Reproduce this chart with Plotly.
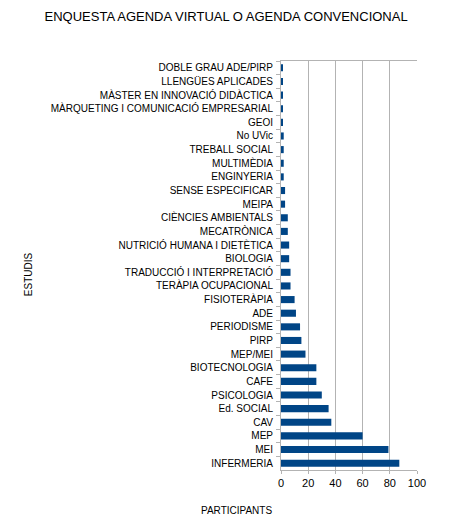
import plotly.graph_objects as go

# estudis (de dalt a baix) i nombre de participants
estudis = [
    "DOBLE GRAU ADE/PIRP", "LLENGÜES APLICADES", "MÀSTER EN INNOVACIÓ DIDÀCTICA",
    "MÀRQUETING I COMUNICACIÓ EMPRESARIAL", "GEOI", "No UVic", "TREBALL SOCIAL",
    "MULTIMÈDIA", "ENGINYERIA", "SENSE ESPECIFICAR", "MEIPA", "CIÈNCIES AMBIENTALS",
    "MECATRÒNICA", "NUTRICIÓ HUMANA I DIETÈTICA", "BIOLOGIA", "TRADUCCIÓ I INTERPRETACIÓ",
    "TERÀPIA OCUPACIONAL", "FISIOTERÀPIA", "ADE", "PERIODISME", "PIRP", "MEP/MEI",
    "BIOTECNOLOGIA", "CAFE", "PSICOLOGIA", "Ed. SOCIAL", "CAV", "MEP", "MEI", "INFERMERIA",
]
participants = [1, 1, 1, 1, 1, 2, 2, 2, 2, 3, 3, 5, 5, 6, 6, 7, 7, 10, 11, 14,
                15, 18, 26, 26, 30, 35, 37, 60, 79, 87]
x_ticks = [0, 20, 40, 60, 80, 100]

FONT = "Liberation Sans, Arial, sans-serif"

fig = go.Figure()
fig.add_trace(go.Bar(
    x=participants, y=estudis, orientation="h",
    marker=dict(color="#004586", line=dict(width=0)),
    width=0.52,
))

# the page body adds an 8px offset, so margins are shifted by that amount
fig.update_layout(
    width=467, height=521,
    margin=dict(l=273, r=58, t=53, b=59),
    paper_bgcolor="white", plot_bgcolor="white",
    showlegend=False,
    font=dict(family=FONT, size=10, color="black"),
    title=dict(text="ENQUESTA AGENDA VIRTUAL O AGENDA CONVENCIONAL",
               x=0.467, xanchor="center", y=0.983, yanchor="middle",
               font=dict(family=FONT, size=13, color="black")),
    annotations=[
        dict(text="ESTUDIS", textangle=-90, xref="paper", yref="paper",
             x=-1.86, y=0.479, xanchor="center", yanchor="middle",
             showarrow=False, font=dict(family=FONT, size=10)),
        dict(text="PARTICIPANTS", xref="paper", yref="paper",
             x=-0.324, y=-0.098, xanchor="center", yanchor="middle",
             showarrow=False, font=dict(family=FONT, size=10)),
    ],
)

fig.update_xaxes(
    range=[0, 100], tickvals=x_ticks, ticktext=[str(v) for v in x_ticks],
    showgrid=True, gridcolor="#b3b3b3", gridwidth=1,
    showline=True, linecolor="#b3b3b3", linewidth=1, mirror=True,
    ticks="outside", ticklen=3, tickcolor="#b3b3b3",
    zeroline=False, fixedrange=True,
    tickfont=dict(family=FONT, size=11), automargin=False,
)
fig.update_yaxes(
    autorange="reversed", type="category",
    showgrid=False, showline=True, linecolor="#b3b3b3", linewidth=1,
    ticks="outside", ticklen=4, tickcolor="#b3b3b3", tickson="boundaries",
    ticklabelstandoff=5,
    tickfont=dict(family=FONT, size=10), automargin=False,
)

fig.write_html("out.html")
